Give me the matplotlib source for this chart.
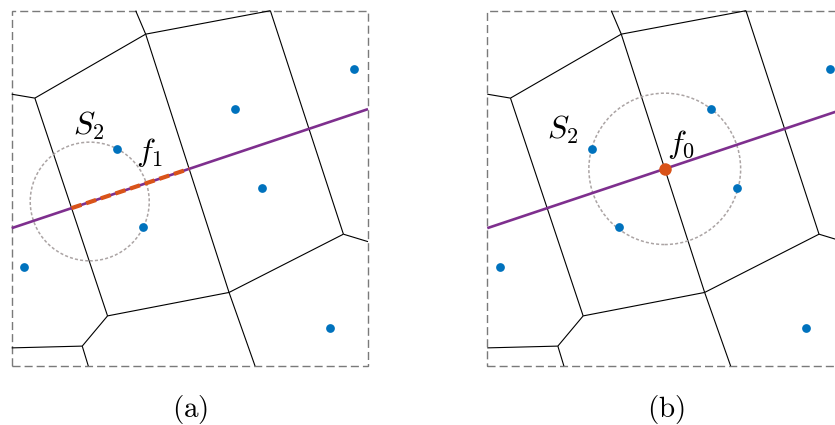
import numpy as np
import matplotlib
matplotlib.use("Agg")
import matplotlib.pyplot as plt
from matplotlib.patches import Rectangle, Circle

plt.rcParams['mathtext.fontset'] = 'cm'

# ---- data (box is [0,10] x [0,10]) ----
vert_x = [3.48, 3.76, 7.26, 0.65, 0.00, 6.10, 2.69, 9.31, 10.00, 1.98, 0.00, 2.15, 6.83]
vert_y = [10.00, 9.34, 10.00, 7.54, 7.65, 2.07, 1.41, 3.71, 3.50, 0.56, 0.51, 0.00, 0.00]
edges = [(0, 1), (1, 2), (1, 3), (3, 4), (1, 5), (3, 6), (6, 5), (5, 12),
         (5, 7), (7, 8), (7, 2), (6, 9), (9, 10), (9, 11)]

site_x = [9.62, 6.28, 2.95, 7.02, 3.69, 0.35, 8.94]
site_y = [8.35, 7.23, 6.11, 5.01, 3.90, 2.78, 1.08]

line_x = [0.0, 10.0]
line_y = [3.88, 7.23]

face_edges = [(3, 6), (1, 5)]       # cell walls bounding face f1
vertex_edge = (1, 5)                # wall hit at vertex f0

circle_a_center = (2.19, 4.63)
circle_a_radius = 1.67
circle_b_radius = 2.13

panel_labels = [r'$\mathrm{(a)}$', r'$\mathrm{(b)}$']

BLUE = '#0072BD'
ORANGE = '#D95319'
PURPLE = '#7E2F8E'


def intersect(p0, p1, q0, q1):
    p0, p1, q0, q1 = map(np.asarray, (p0, p1, q0, q1))
    d1 = p1 - p0
    d2 = q1 - q0
    A = np.array([d1, -d2]).T
    t, _ = np.linalg.solve(A, q0 - p0)
    return p0 + t * d1


L0 = (line_x[0], line_y[0])
L1 = (line_x[1], line_y[1])
face_pts = [intersect(L0, L1, (vert_x[i], vert_y[i]), (vert_x[j], vert_y[j]))
            for i, j in face_edges]
f0 = intersect(L0, L1, (vert_x[vertex_edge[0]], vert_y[vertex_edge[0]]),
               (vert_x[vertex_edge[1]], vert_y[vertex_edge[1]]))

W, H = 835, 425
fig = plt.figure(figsize=(W / 100, H / 100), dpi=100)

box_px = (11.7, 59.0, 356.3, 355.3)
offsets = [0.0, 475.6]


def base(ax):
    ax.set_xlim(0, 10)
    ax.set_ylim(0, 10)
    ax.axis('off')
    for i, j in edges:
        ax.plot([vert_x[i], vert_x[j]], [vert_y[i], vert_y[j]], color='black',
                lw=0.8, solid_capstyle='butt', clip_on=False, zorder=2)
    ax.add_patch(Rectangle((0, 0), 10, 10, fill=False, edgecolor='#7a7a7a',
                           lw=1.0, linestyle=(0, (5.8, 2.9)), clip_on=False, zorder=1))


axes = []
for k, off in enumerate(offsets):
    ax = fig.add_axes([(box_px[0] + off) / W, box_px[1] / H, box_px[2] / W, box_px[3] / H])
    base(ax)
    axes.append(ax)

MATH_FS = 23

# panel (a)
ax = axes[0]
ax.add_patch(Circle(circle_a_center, circle_a_radius, fill=False, edgecolor='#aba4a4',
                    lw=1.1, linestyle=(0, (2.0, 1.4)), clip_on=False, zorder=3))
ax.plot(line_x, line_y, color=PURPLE, lw=1.9, solid_capstyle='butt', clip_on=False, zorder=4)
ax.plot([face_pts[0][0], face_pts[1][0]], [face_pts[0][1], face_pts[1][1]], color=ORANGE,
        lw=3.0, linestyle=(0, (2.5, 1.2)), dash_capstyle='butt', clip_on=False, zorder=5)
ax.plot(site_x, site_y, 'o', color=BLUE, ms=6.3, mew=0, clip_on=False, zorder=6)
ax.text(1.72, 6.50, r'$S_2$', fontsize=MATH_FS, ha='left', va='baseline')
ax.text(3.48, 5.76, r'$f_1$', fontsize=MATH_FS, ha='left', va='baseline')
ax.text(5.02, -1.44, panel_labels[0], fontsize=21, ha='center', va='baseline')

# panel (b)
ax = axes[1]
ax.add_patch(Circle(tuple(f0), circle_b_radius, fill=False, edgecolor='#aba4a4',
                    lw=1.1, linestyle=(0, (2.0, 1.4)), clip_on=False, zorder=3))
ax.plot(line_x, line_y, color=PURPLE, lw=1.9, solid_capstyle='butt', clip_on=False, zorder=4)
ax.plot(site_x, site_y, 'o', color=BLUE, ms=6.3, mew=0, clip_on=False, zorder=6)
ax.plot([f0[0]], [f0[1]], 'o', color=ORANGE, ms=9.0, mew=0, clip_on=False, zorder=7)
ax.text(1.67, 6.41, r'$S_2$', fontsize=MATH_FS, ha='left', va='baseline')
ax.text(5.04, 6.00, r'$f_0$', fontsize=MATH_FS, ha='left', va='baseline')
ax.text(5.02, -1.44, panel_labels[1], fontsize=21, ha='center', va='baseline')

fig.savefig('out.png', dpi=100)
